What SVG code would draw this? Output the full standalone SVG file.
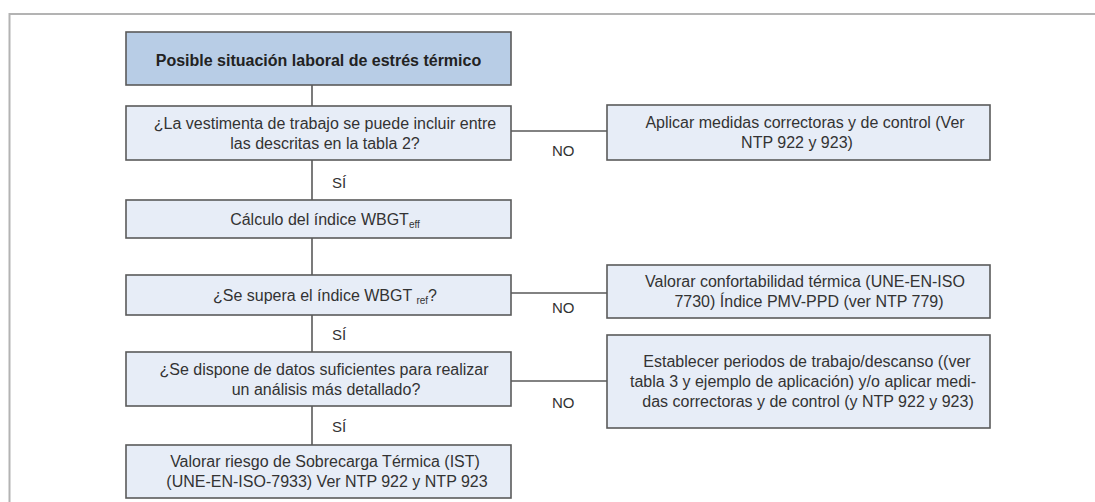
<svg xmlns="http://www.w3.org/2000/svg" width="1095" height="502" viewBox="0 0 1095 502">
<style>
.box{fill:#e7edf7;stroke:#5a5a5a;stroke-width:1.6}
.head{fill:#b8cde6;stroke:#5a5a5a;stroke-width:1.6}
.t{font-family:"Liberation Sans",Arial,sans-serif;font-size:16px;fill:#333;text-anchor:middle}
.b{font-weight:bold;fill:#222}
.lbl{font-family:"Liberation Sans",Arial,sans-serif;font-size:15px;fill:#333}
.sub{font-size:10px}
.c{stroke:#5a5a5a;stroke-width:1.6;fill:none}
</style>
<rect width="1095" height="502" fill="#fff"/>
<path d="M9.5,502 V14 H1095" fill="none" stroke="#b3b3b3" stroke-width="2"/>
<g id="connectors">
<path class="c" d="M312,85 V106 M312,160 V200 M312,238 V275 M312,315 V352 M312,406 V445"/>
<path class="c" d="M511,131 H607 M511,293 H607 M511,381 H607"/>
<text class="lbl" x="332" y="188">SÍ</text>
<text class="lbl" x="332" y="340">SÍ</text>
<text class="lbl" x="332" y="432">SÍ</text>
<text class="lbl" x="552" y="156">NO</text>
<text class="lbl" x="552" y="313">NO</text>
<text class="lbl" x="552" y="408">NO</text>
</g>
<g id="n1">
<rect class="head" x="126" y="32" width="385" height="53"/>
<text class="t b" x="318.5" y="66">Posible situación laboral de estrés térmico</text>
</g>
<g id="n2">
<rect class="box" x="126" y="106" width="385" height="54"/>
<text class="t" x="325" y="129">¿La vestimenta de trabajo se puede incluir entre</text>
<text class="t" x="325" y="149">las descritas en la tabla 2?</text>
</g>
<g id="n3">
<rect class="box" x="126" y="200" width="385" height="38"/>
<text class="t" x="325" y="225">Cálculo del índice WBGT<tspan class="sub" dy="3">eff</tspan></text>
</g>
<g id="n4">
<rect class="box" x="126" y="275" width="385" height="40"/>
<text class="t" x="325" y="301">¿Se supera el índice WBGT <tspan class="sub" dy="3">ref</tspan><tspan dy="-3">?</tspan></text>
</g>
<g id="n5">
<rect class="box" x="126" y="352" width="385" height="54"/>
<text class="t" x="324" y="375">¿Se dispone de datos suficientes para realizar</text>
<text class="t" x="326" y="395">un análisis más detallado?</text>
</g>
<g id="n6">
<rect class="box" x="126" y="445" width="385" height="53"/>
<text class="t" x="325" y="467">Valorar riesgo de Sobrecarga Térmica (IST)</text>
<text class="t" x="327" y="487">(UNE-EN-ISO-7933) Ver NTP 922 y NTP 923</text>
</g>
<g id="r1">
<rect class="box" x="607" y="105" width="383" height="55"/>
<text class="t" x="805" y="128">Aplicar medidas correctoras y de control (Ver</text>
<text class="t" x="797" y="148">NTP 922 y 923)</text>
</g>
<g id="r2">
<rect class="box" x="607" y="265" width="383" height="53"/>
<text class="t" x="805" y="287">Valorar confortabilidad térmica (UNE-EN-ISO</text>
<text class="t" x="809" y="307">7730) Índice PMV-PPD (ver NTP 779)</text>
</g>
<g id="r3">
<rect class="box" x="607" y="335" width="383" height="93"/>
<text class="t" x="807" y="367">Establecer periodos de trabajo/descanso ((ver</text>
<text class="t" x="803" y="387">tabla 3 y ejemplo de aplicación) y/o aplicar medi-</text>
<text class="t" x="808" y="407">das correctoras y de control (y NTP 922 y 923)</text>
</g>
</svg>
